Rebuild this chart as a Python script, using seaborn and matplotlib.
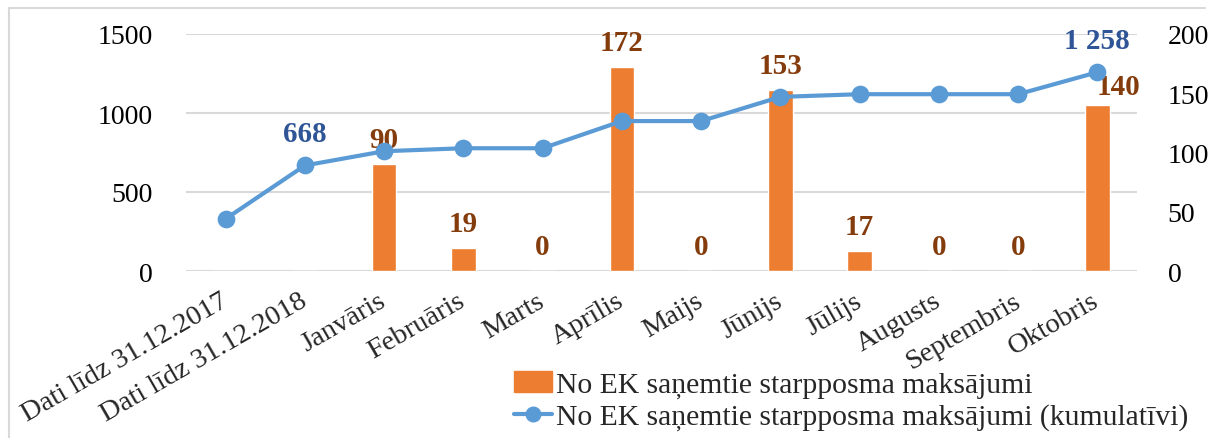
import matplotlib
matplotlib.use("Agg")
import matplotlib.pyplot as plt
from matplotlib.lines import Line2D
import seaborn as sns

# Data
categories = ["Dati līdz 31.12.2017", "Dati līdz 31.12.2018", "Janvāris", "Februāris",
              "Marts", "Aprīlis", "Maijs", "Jūnijs", "Jūlijs", "Augusts",
              "Septembris", "Oktobris"]
payments = [None, None, 90, 19, 0, 172, 0, 153, 17, 0, 0, 140]
cumulative = [330, 668, 758, 777, 777, 949, 949, 1102, 1119, 1119, 1119, 1258]
left_ticks = [0, 500, 1000, 1500]
right_ticks = [0, 50, 100, 150, 200]
line_labels_at = [1, 11]

bar_name = "No EK saņemtie starpposma maksājumi"
line_name = "No EK saņemtie starpposma maksājumi (kumulatīvi)"

BAR_C = "#ED7D31"
LINE_C = "#5B9BD5"
BAR_TXT = "#843C0C"
LINE_TXT = "#2F5597"
GRID_C = "#D9D9D9"
FS = 20

sns.set_theme(style="white")
plt.rcParams["font.family"] = ["Liberation Serif", "DejaVu Serif"]


def main():
    fig = plt.figure(figsize=(12.18, 4.39), dpi=100)
    ax_left = fig.add_axes([186 / 1218, 1 - 272 / 439, 951 / 1218, 237 / 439])
    ax_bar = ax_left.twinx()
    ax_line = ax_left.twinx()
    ax_line.sharey(ax_left)

    # bars on the right axis
    bar_vals = [0 if v is None else v for v in payments]
    sns.barplot(x=categories, y=bar_vals, ax=ax_bar, color=BAR_C, width=0.31,
                saturation=1)
    bars = ax_bar.containers[0]
    labels = ["" if v is None else str(v) for v in payments]
    anns = ax_bar.bar_label(bars, labels=labels, padding=8, color=BAR_TXT,
                            fontsize=21, fontweight="bold")
    anns[-1].xyann = (15, 4)

    # cumulative line on the left axis
    sns.pointplot(x=categories, y=cumulative, ax=ax_line, color=LINE_C,
                  markers="o", markersize=10.5, linewidth=3, errorbar=None)
    for i in line_labels_at:
        txt = f"{cumulative[i]:,}".replace(",", " ")
        ax_line.annotate(txt, (i, cumulative[i]), xytext=(0, 23),
                         textcoords="offset points", ha="center", va="center",
                         color=LINE_TXT, fontsize=21, fontweight="bold")

    ax_left.set_ylim(0, 1500)
    ax_left.set_yticks(left_ticks)
    ax_bar.set_ylim(0, 200)
    ax_bar.set_yticks(right_ticks)
    ax_left.set_xlim(-0.5, len(categories) - 0.5)

    ax_left.grid(axis="y", color=GRID_C, linewidth=1.5)
    ax_left.grid(axis="x", visible=False)
    ax_left.set_axisbelow(True)

    for ax in (ax_left, ax_bar, ax_line):
        for s in ax.spines.values():
            s.set_visible(False)
        ax.set_xlabel("")
        ax.set_ylabel("")
    ax_line.tick_params(axis="y", right=False, labelright=False,
                        left=False, labelleft=False)

    ax_left.tick_params(axis="y", length=0, pad=24, labelsize=FS, labelcolor="black")
    ax_bar.tick_params(axis="y", length=0, pad=22, labelsize=FS, labelcolor="black")
    ax_left.set_xticks(range(len(categories)))
    ax_left.set_xticklabels(categories, rotation=30, ha="right", va="center",
                            rotation_mode="anchor", fontsize=20.5)
    ax_left.tick_params(axis="x", length=0, pad=20)

    handles = [plt.Rectangle((0, 0), 1, 1, color=BAR_C),
               Line2D([], [], color=LINE_C, marker="o", markersize=10.5, linewidth=3)]
    fig.legend(handles, [bar_name, line_name], loc="upper left",
               bbox_to_anchor=(514 / 1218, 1 - 372 / 439), frameon=False,
               fontsize=21.3, handlelength=1.3, handletextpad=0.13,
               labelspacing=0.18, borderaxespad=0, borderpad=0)

    # light border of the chart area
    fig.add_artist(Line2D([9 / 1218, 1205 / 1218], [1 - 9 / 439, 1 - 9 / 439],
                          color=GRID_C, linewidth=1.5))
    fig.add_artist(Line2D([9 / 1218, 9 / 1218], [1 - 9 / 439, 0],
                          color=GRID_C, linewidth=1.5))

    fig.savefig("out.png", dpi=100)


if __name__ == "__main__":
    main()
